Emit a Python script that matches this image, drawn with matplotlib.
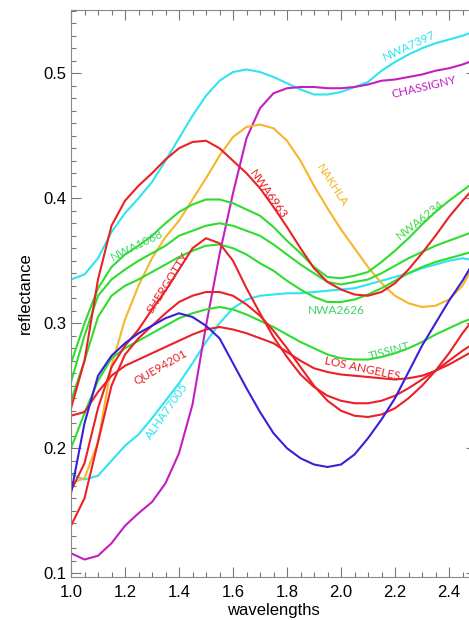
import matplotlib
matplotlib.use("Agg")
from matplotlib import pyplot as plt
from matplotlib.ticker import MultipleLocator

wavelengths = [1.00, 1.05, 1.10, 1.15, 1.20, 1.25, 1.30, 1.35, 1.40, 1.45,
               1.50, 1.55, 1.60, 1.65, 1.70, 1.75, 1.80, 1.85, 1.90, 1.95,
               2.00, 2.05, 2.10, 2.15, 2.20, 2.25, 2.30, 2.35, 2.40, 2.45, 2.50]

nwa7397 = [0.335, 0.339, 0.352, 0.373, 0.388, 0.400, 0.413, 0.430, 0.448, 0.466,
           0.482, 0.494, 0.501, 0.503, 0.501, 0.497, 0.492, 0.487, 0.483, 0.483,
           0.485, 0.489, 0.493, 0.502, 0.509, 0.515, 0.520, 0.524, 0.527, 0.530, 0.534]
chassigny = [0.116, 0.111, 0.114, 0.124, 0.138, 0.148, 0.157, 0.172, 0.196, 0.235,
             0.298, 0.355, 0.404, 0.448, 0.472, 0.484, 0.488, 0.489, 0.489, 0.488,
             0.488, 0.489, 0.491, 0.494, 0.495, 0.497, 0.499, 0.502, 0.504, 0.507, 0.511]
nakhla = [0.172, 0.176, 0.205, 0.266, 0.303, 0.330, 0.352, 0.369, 0.382, 0.399,
          0.416, 0.434, 0.449, 0.457, 0.459, 0.456, 0.446, 0.430, 0.410, 0.392,
          0.375, 0.360, 0.345, 0.332, 0.322, 0.316, 0.313, 0.314, 0.319, 0.330, 0.350]
blue_curve = [0.164, 0.220, 0.258, 0.274, 0.284, 0.292, 0.298, 0.304, 0.308, 0.305,
              0.298, 0.288, 0.268, 0.248, 0.229, 0.212, 0.200, 0.192, 0.187, 0.185,
              0.187, 0.195, 0.208, 0.223, 0.240, 0.261, 0.282, 0.300, 0.318, 0.334, 0.352]
alha77005 = [0.179, 0.175, 0.178, 0.190, 0.202, 0.211, 0.224, 0.238, 0.252, 0.268,
             0.285, 0.300, 0.312, 0.319, 0.322, 0.323, 0.324, 0.324, 0.325, 0.326,
             0.327, 0.328, 0.331, 0.334, 0.337, 0.340, 0.344, 0.347, 0.350, 0.352, 0.350]
nwa6234 = [0.268, 0.300, 0.328, 0.345, 0.355, 0.362, 0.370, 0.380, 0.389, 0.395,
           0.399, 0.399, 0.396, 0.391, 0.386, 0.377, 0.366, 0.356, 0.345, 0.337,
           0.336, 0.338, 0.341, 0.349, 0.358, 0.368, 0.379, 0.389, 0.398, 0.406, 0.414]
nwa1068 = [0.253, 0.290, 0.322, 0.335, 0.343, 0.350, 0.356, 0.362, 0.370, 0.374,
           0.378, 0.380, 0.378, 0.374, 0.370, 0.363, 0.355, 0.347, 0.340, 0.333,
           0.331, 0.333, 0.335, 0.340, 0.346, 0.352, 0.357, 0.362, 0.366, 0.370, 0.374]
nwa2626 = [0.238, 0.270, 0.305, 0.322, 0.330, 0.335, 0.341, 0.347, 0.353, 0.358,
           0.362, 0.363, 0.360, 0.355, 0.348, 0.342, 0.334, 0.327, 0.321, 0.317,
           0.317, 0.319, 0.323, 0.328, 0.334, 0.340, 0.345, 0.349, 0.352, 0.355, 0.358]
tissint = [0.200, 0.228, 0.254, 0.272, 0.280, 0.286, 0.292, 0.298, 0.304, 0.308,
           0.311, 0.313, 0.311, 0.307, 0.302, 0.297, 0.291, 0.285, 0.280, 0.275,
           0.272, 0.271, 0.271, 0.273, 0.276, 0.280, 0.285, 0.291, 0.296, 0.301, 0.305]
nwa6963 = [0.232, 0.270, 0.335, 0.378, 0.398, 0.410, 0.420, 0.431, 0.440, 0.445,
           0.446, 0.440, 0.430, 0.420, 0.408, 0.393, 0.377, 0.360, 0.344, 0.333,
           0.327, 0.323, 0.322, 0.325, 0.332, 0.343, 0.356, 0.370, 0.385, 0.398, 0.410]
shergotty = [0.166, 0.188, 0.232, 0.265, 0.282, 0.295, 0.311, 0.326, 0.343, 0.360,
             0.368, 0.364, 0.350, 0.328, 0.308, 0.289, 0.273, 0.259, 0.249, 0.242,
             0.238, 0.236, 0.236, 0.238, 0.242, 0.248, 0.255, 0.262, 0.270, 0.278, 0.285]
que94201 = [0.226, 0.229, 0.245, 0.258, 0.266, 0.271, 0.276, 0.281, 0.286, 0.291,
            0.295, 0.297, 0.295, 0.292, 0.288, 0.284, 0.277, 0.270, 0.264, 0.261,
            0.259, 0.258, 0.257, 0.256, 0.255, 0.256, 0.258, 0.262, 0.267, 0.273, 0.279]
los_angeles = [0.138, 0.160, 0.205, 0.250, 0.275, 0.288, 0.298, 0.308, 0.317, 0.322,
               0.325, 0.325, 0.322, 0.315, 0.306, 0.294, 0.280, 0.265, 0.250, 0.238,
               0.230, 0.226, 0.225, 0.227, 0.232, 0.240, 0.250, 0.262, 0.276, 0.292, 0.306]

CYAN = "#30e4ef"
MAGENTA = "#c21fc0"
ORANGE = "#f7b52a"
BLUE = "#3a1fd8"
GREEN = "#2fdc2f"
RED = "#ea2127"
LABEL_GREEN = "#3fd468"

curves = [
    (nwa7397, CYAN), (alha77005, CYAN), (chassigny, MAGENTA), (nakhla, ORANGE),
    (nwa6234, GREEN), (nwa1068, GREEN), (nwa2626, GREEN), (tissint, GREEN),
    (nwa6963, RED), (shergotty, RED), (que94201, RED), (los_angeles, RED),
    (blue_curve, BLUE),
]

# name, x, y, rotation, colour
labels = [
    ("NWA7397", 2.252, 0.522, 25, CYAN),
    ("CHASSIGNY", 2.307, 0.489, 13, MAGENTA),
    ("NAKHLA", 1.967, 0.410, -57, ORANGE),
    ("NWA6963", 1.73, 0.403, -55, RED),
    ("NWA6234", 2.293, 0.383, 38, "#3fd83f"),
    ("NWA1068", 1.244, 0.362, 26, LABEL_GREEN),
    ("SHERGOTTY", 1.36, 0.332, 58, RED),
    ("NWA2626", 1.981, 0.310, 0, LABEL_GREEN),
    ("TISSINT", 2.178, 0.278, 15, LABEL_GREEN),
    ("LOS ANGELES", 2.078, 0.2634, -12, RED),
    ("QUE94201", 1.33, 0.265, 30, RED),
    ("ALHA77005", 1.356, 0.230, 55, CYAN),
]

plt.rcParams["font.family"] = ["Liberation Sans", "DejaVu Sans"]

fig = plt.figure(figsize=(4.69, 6.2), dpi=100)
ax = fig.add_axes([71 / 469, 43 / 620, 405 / 469, 567 / 620])

for values, color in curves:
    ax.plot(wavelengths, values, color=color, lw=1.5)

for name, x, y, rot, color in labels:
    ax.text(x, y, name, color=color, rotation=rot, fontsize=8.6,
            family=["Lato", "DejaVu Sans"], ha="center", va="center",
            rotation_mode="anchor")

ax.set_xlim(1.0, 2.5)
ax.set_ylim(0.097, 0.5506)
ax.xaxis.set_major_locator(MultipleLocator(0.2))
ax.xaxis.set_minor_locator(MultipleLocator(0.05))
ax.yaxis.set_major_locator(MultipleLocator(0.1))
ax.yaxis.set_minor_locator(MultipleLocator(0.01))
ax.xaxis.set_major_formatter(plt.FormatStrFormatter("%.1f"))
ax.yaxis.set_major_formatter(plt.FormatStrFormatter("%.1f"))
ax.tick_params(which="both", direction="in", top=True, right=True,
               color="#777777", labelsize=12, width=0.8)
ax.tick_params(which="major", length=7)
ax.tick_params(which="minor", length=3.5)
ax.tick_params(axis="x", which="major", pad=6)
ax.tick_params(axis="y", which="major", pad=3)
for s in ax.spines.values():
    s.set_color("#888888")
    s.set_linewidth(0.8)

ax.set_xlabel("wavelengths", fontsize=12, labelpad=2)
ax.set_ylabel("reflectance", fontsize=12, labelpad=8)

fig.savefig("out.png", dpi=100)
